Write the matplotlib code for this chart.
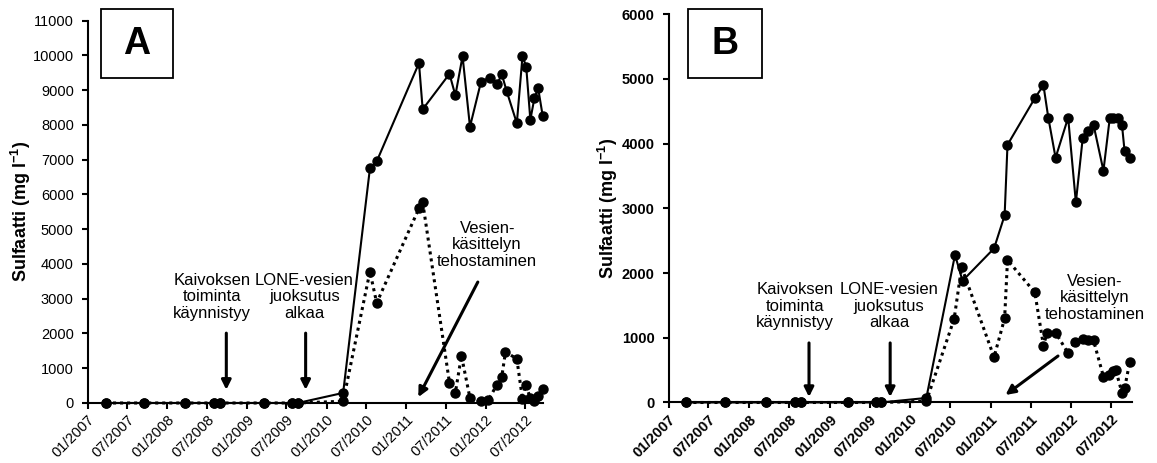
import matplotlib
matplotlib.use("Agg")
import matplotlib.pyplot as plt
from matplotlib.patches import Rectangle
import pandas as pd

plt.rcParams["font.family"] = ["Liberation Sans", "DejaVu Sans"]
plt.rcParams["mathtext.fontset"] = "custom"
plt.rcParams["mathtext.rm"] = "Liberation Sans"
plt.rcParams["mathtext.bf"] = "Liberation Sans:bold"

# sampling dates before the mine started (all values ~0)
early_dates_a = ["2007-03-26", "2007-09-17", "2008-03-21", "2008-08-02", "2008-08-29",
                 "2009-03-21", "2009-07-27", "2009-08-22"]
early_dates_b = ["2007-03-23", "2007-09-16", "2008-03-20", "2008-07-28", "2008-08-23",
                 "2009-03-23", "2009-07-30", "2009-08-21"]
early_vals = [0, 0, 0, 0, 0, 0, 0, 0]

# A, solid line
a_solid_dates = early_dates_a + [
    "2010-03-18", "2010-07-19", "2010-08-19", "2011-03-01", "2011-03-18", "2011-07-19",
    "2011-08-15", "2011-09-17", "2011-10-21", "2011-12-11", "2012-01-19", "2012-02-23",
    "2012-03-15", "2012-04-06", "2012-05-23", "2012-06-18", "2012-07-05", "2012-07-24",
    "2012-08-12", "2012-08-29", "2012-09-19"]
a_solid_vals = early_vals + [
    290, 6750, 6950, 9780, 8450, 9470,
    8850, 9980, 7950, 9250, 9360, 9180,
    9460, 8980, 8050, 9980, 9680, 8150,
    8780, 9050, 8250]

# A, dotted line
a_dot_dates = early_dates_a + [
    "2010-03-18", "2010-07-19", "2010-08-19", "2011-03-01", "2011-03-18", "2011-07-19",
    "2011-08-15", "2011-09-12", "2011-10-21", "2011-12-11", "2012-01-13", "2012-02-20",
    "2012-03-15", "2012-04-01", "2012-05-23", "2012-06-18", "2012-07-02", "2012-07-24",
    "2012-08-12", "2012-08-29", "2012-09-19"]
a_dot_vals = early_vals + [
    50, 3780, 2880, 5600, 5780, 580,
    300, 1360, 140, 50, 80, 510,
    760, 1470, 1270, 110, 525, 150,
    50, 200, 410]

# B, solid line
b_solid_dates = early_dates_b + [
    "2010-03-15", "2010-07-23", "2010-08-26", "2011-01-16", "2011-03-05", "2011-03-18",
    "2011-07-20", "2011-08-28", "2011-09-19", "2011-10-22", "2011-12-18", "2012-01-22",
    "2012-02-22", "2012-03-15", "2012-04-11", "2012-05-26", "2012-06-24", "2012-07-10",
    "2012-07-30", "2012-08-18", "2012-08-30", "2012-09-22"]
b_solid_vals = early_vals + [
    70, 2280, 1880, 2380, 2890, 3980,
    4700, 4900, 4400, 3780, 4400, 3090,
    4080, 4200, 4290, 3580, 4400, 4400,
    4400, 4290, 3880, 3780]

# B, dotted line
b_dot_dates = early_dates_b + [
    "2010-03-15", "2010-07-19", "2010-08-22", "2011-01-16", "2011-03-05", "2011-03-18",
    "2011-07-20", "2011-08-28", "2011-09-14", "2011-10-22", "2011-12-18", "2012-01-17",
    "2012-02-22", "2012-03-15", "2012-04-11", "2012-05-26", "2012-06-19", "2012-07-10",
    "2012-07-21", "2012-08-18", "2012-08-30", "2012-09-22"]
b_dot_vals = early_vals + [
    20, 1290, 2090, 700, 1300, 2200,
    1700, 880, 1080, 1080, 760, 940,
    980, 960, 960, 400, 420, 480,
    500, 150, 220, 620]

tick_dates = pd.date_range("2007-01-01", "2012-07-01", freq="6MS")
tick_labels = [d.strftime("%m/%Y") for d in tick_dates]

ylabel = r"Sulfaatti (mg l$\mathbf{^{-1}}$)"

txt_start = "Kaivoksen\ntoiminta\nkäynnistyy"
txt_lone = "LONE-vesien\njuoksutus\nalkaa"
txt_treat = "Vesien-\nkäsittelyn\ntehostaminen"


def d(s):
    return pd.Timestamp(s)


def draw_panel(ax, sd, sv, dd, dv, ymax, xmax, bold, notes, label_x):
    weight = "bold" if bold else "normal"
    ax.plot(pd.to_datetime(dd), dv, color="black", linestyle=(0, (1, 1.3)), lw=2.2,
            marker="o", markersize=6.5, zorder=3, clip_on=False)
    ax.plot(pd.to_datetime(sd), sv, color="black", linestyle="-", lw=1.5,
            marker="o", markersize=6.5, zorder=4, clip_on=False)

    ax.set_xlim(d("2007-01-01"), d(xmax))
    ax.set_ylim(0, ymax)
    ax.set_xticks(tick_dates)
    ax.set_xticklabels(tick_labels, rotation=45, ha="right", rotation_mode="anchor",
                       fontsize=10.5, fontweight=weight)
    ax.set_yticks(range(0, ymax + 1, 1000))
    ax.set_yticklabels([str(v) for v in range(0, ymax + 1, 1000)],
                       fontsize=10.5, fontweight=weight)
    ax.tick_params(axis="both", direction="out", length=4, width=1.5, color="black")
    ax.tick_params(axis="x", pad=3)
    ax.tick_params(axis="y", pad=6)
    for side in ["top", "right"]:
        ax.spines[side].set_visible(False)
    for side in ["left", "bottom"]:
        ax.spines[side].set_linewidth(1.5)

    ax.set_ylabel(ylabel, fontsize=13, fontweight="bold")
    ax.yaxis.set_label_coords(label_x, 0.5)

    # event notes and arrows
    arrow = dict(arrowstyle="-|>", color="black", lw=2.2, mutation_scale=14,
                 shrinkA=0, shrinkB=0)
    for text, tx, ty, a0, a1 in notes:
        ax.text(d(tx), ty, text, ha="center", va="center", fontsize=12,
                linespacing=1.12)
        ax.annotate("", xy=(d(a1[0]), a1[1]), xytext=(d(a0[0]), a0[1]),
                    arrowprops=arrow)


fig = plt.figure(figsize=(11.57, 4.63), dpi=100)
ax_a = fig.add_axes([0.0758, 0.1296, 0.3935, 0.8257])
ax_b = fig.add_axes([0.5778, 0.1307, 0.4003, 0.839])

notes_a = [
    (txt_start, "2008-07-25", 3050, ("2008-09-28", 2010), ("2008-09-28", 380)),
    (txt_lone, "2009-09-22", 3050, ("2009-09-27", 2010), ("2009-09-27", 380)),
    (txt_treat, "2012-01-08", 4550, ("2011-11-26", 3480), ("2011-02-26", 170)),
]
notes_b = [
    (txt_start, "2008-07-27", 1490, ("2008-09-29", 920), ("2008-09-29", 85)),
    (txt_lone, "2009-09-27", 1490, ("2009-10-02", 920), ("2009-10-02", 85)),
    (txt_treat, "2012-04-16", 1614, ("2011-11-02", 718), ("2011-03-09", 116)),
]

draw_panel(ax_a, a_solid_dates, a_solid_vals, a_dot_dates, a_dot_vals,
           11000, "2012-09-20", False, notes_a, -0.12)
draw_panel(ax_b, b_solid_dates, b_solid_vals, b_dot_dates, b_dot_vals,
           6000, "2012-10-01", True, notes_b, -0.105)

# panel letters in boxes
W, H = 1157, 463
for letter, x0, x1 in [("A", 101, 173), ("B", 688, 762)]:
    y0, y1 = 9.3, 77.7
    fig.patches.append(Rectangle((x0 / W, 1 - y1 / H), (x1 - x0) / W, (y1 - y0) / H,
                                 transform=fig.transFigure, fill=False,
                                 edgecolor="black", lw=1.3))
    fig.text((x0 + x1) / 2 / W, 1 - (y0 + y1) / 2 / H, letter, ha="center",
             va="center", fontsize=27, fontweight="bold")

fig.savefig("out.png", dpi=100)
